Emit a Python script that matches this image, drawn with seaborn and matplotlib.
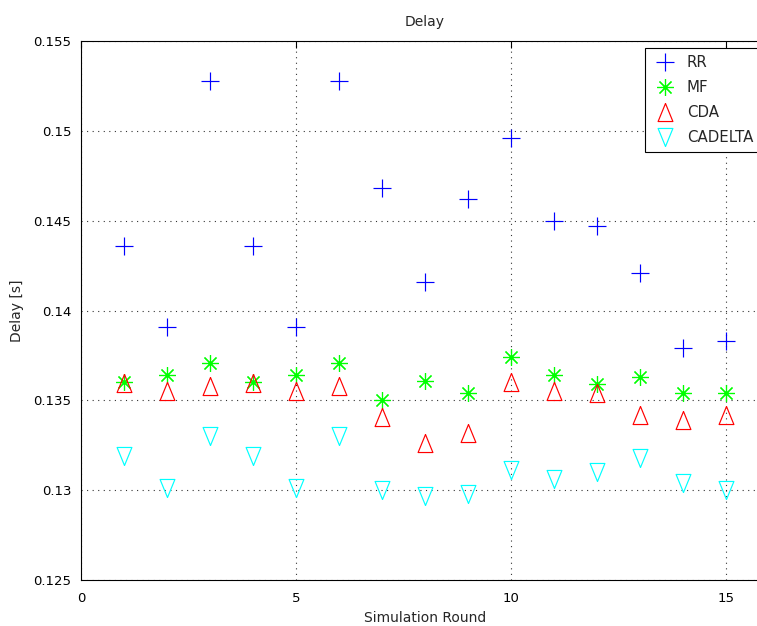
import matplotlib
matplotlib.use("Agg")
import matplotlib.pyplot as plt
import seaborn as sns
import pandas as pd
from matplotlib.ticker import FuncFormatter, MultipleLocator

rounds = [1, 2, 3, 4, 5, 6, 7, 8, 9, 10, 11, 12, 13, 14, 15]
rr = [0.1436, 0.1391, 0.1528, 0.1436, 0.1391, 0.1528, 0.1468, 0.1416, 0.1462,
      0.1496, 0.1450, 0.1447, 0.1421, 0.1379, 0.1383]
mf = [0.1360, 0.1364, 0.1371, 0.1360, 0.1364, 0.1371, 0.1350, 0.1361, 0.1354,
      0.1374, 0.1364, 0.1359, 0.1363, 0.1354, 0.1354]
cda = [0.13595, 0.1355, 0.1358, 0.13595, 0.1355, 0.1358, 0.1341, 0.1326, 0.1332,
       0.1360, 0.1355, 0.1354, 0.1342, 0.1339, 0.1342]
cadelta = [0.1319, 0.1301, 0.1330, 0.1319, 0.1301, 0.1330, 0.1300, 0.1297, 0.1298,
           0.1311, 0.1306, 0.1310, 0.1318, 0.1304, 0.1300]
series_names = ["RR", "MF", "CDA", "CADELTA"]

sns.set_style("white")
plt.rcParams["font.family"] = ["DejaVu Sans"]
plt.rcParams["font.size"] = 9

fig = plt.figure(figsize=(7.57, 6.26), dpi=100)
# axes extends to the right edge of the figure (x range clipped like the reference)
ax = fig.add_axes([81 / 757, 46 / 626, 676 / 757, 539 / 626])

up_tri = [(0, 1), (-0.82, -1), (0.82, -1), (0, 1)]
down_tri = [(0, -1), (-0.82, 1), (0.82, 1), (0, -1)]
styles = {
    "RR": dict(color=(0, 0, 1), marker="+", ms=13.5),
    "MF": dict(color=(0, 1, 0), marker=(8, 2, 0), ms=12),
    "CDA": dict(color=(1, 0, 0), marker=up_tri, ms=13),
    "CADELTA": dict(color=(0, 1, 1), marker=down_tri, ms=13),
}
data = {"RR": rr, "MF": mf, "CDA": cda, "CADELTA": cadelta}

for name in series_names:
    st = styles[name]
    df = pd.DataFrame({"round": rounds, "delay": data[name]})
    sns.lineplot(data=df, x="round", y="delay", ax=ax, color=st["color"],
                 marker=st["marker"], markersize=st["ms"], linestyle="none",
                 markerfacecolor="none", markeredgecolor=st["color"],
                 markeredgewidth=0.85, label=name, sort=False)

ax.set_xlim(0, 676 / 43)
ax.set_ylim(0.125, 0.155)
ax.xaxis.set_major_locator(MultipleLocator(5))
ax.yaxis.set_major_locator(MultipleLocator(0.005))
ax.yaxis.set_major_formatter(FuncFormatter(lambda v, p: f"{v:.3f}".rstrip("0")))
ax.grid(True, linestyle=(0, (1, 4)), color="black", linewidth=0.8, alpha=0.8)
ax.tick_params(direction="in", length=5, width=0.8, top=True, right=False,
               labelsize=9.5, pad=7, colors="black")
ax.tick_params(axis="x", pad=9)
for side, sp in ax.spines.items():
    sp.set_visible(side != "right")
    sp.set_color("black")
    sp.set_linewidth(0.8)

xc = (425 - 81) / 676
ax.set_title("Delay", fontsize=10, pad=11, x=xc)
ax.set_xlabel("Simulation Round", fontsize=10, labelpad=5)
ax.xaxis.set_label_coords(xc, -0.058)
ax.set_ylabel("Delay [s]", fontsize=10, labelpad=7)

leg = ax.legend(loc="upper left", bbox_to_anchor=(645 / 757, 1 - 48 / 626),
                bbox_transform=fig.transFigure, frameon=True, fancybox=False,
                shadow=False, framealpha=1, edgecolor="black", fontsize=10.8,
                numpoints=1, handlelength=1.8, handletextpad=0.55,
                labelspacing=0.68, borderpad=0.45, borderaxespad=0)
leg.get_frame().set_linewidth(0.8)

fig.savefig("out.png", dpi=100)
